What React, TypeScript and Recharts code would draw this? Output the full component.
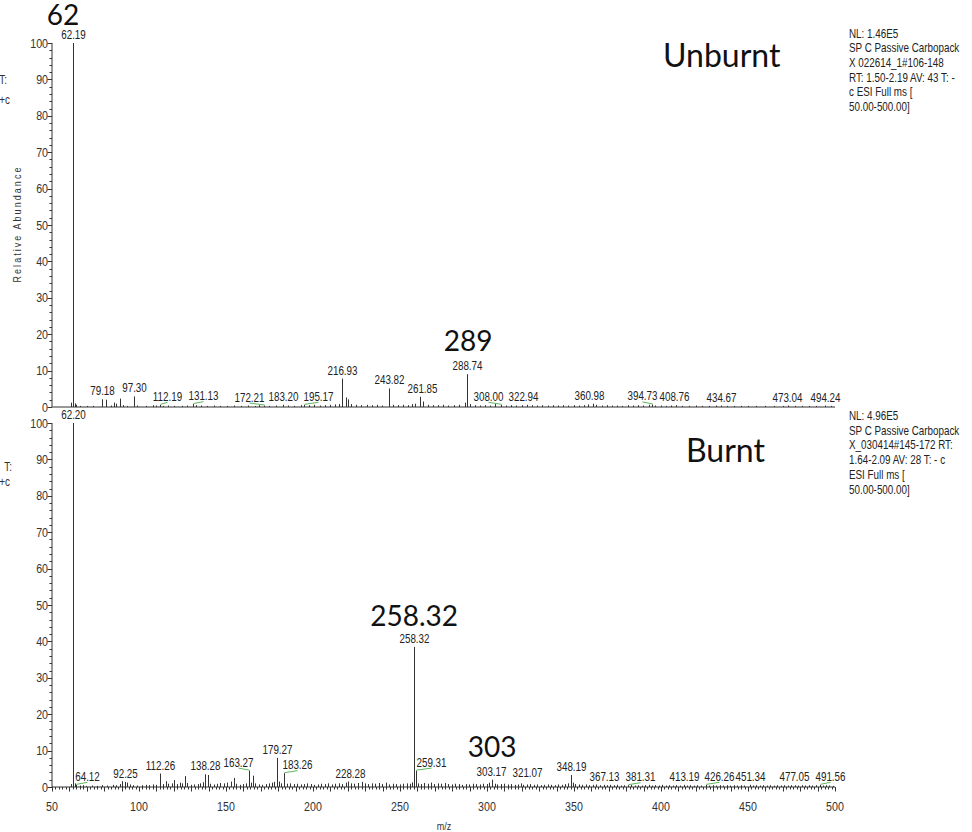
import { Bar, BarChart, LabelList, XAxis, YAxis } from "recharts";

// Unburnt sample spectrum: [m/z, relative abundance %]
const UNBURNT_PEAKS: [number, number][] = [
  [61.2, 1.2], [62.19, 100], [63.2, 1.0], [64.1, 0.6], [66, 0.3], [70, 0.3], [74, 0.3],
  [79.18, 2.1], [81.1, 2.0], [84, 0.4], [85.8, 1.2], [87.1, 0.9], [89, 2.3], [91, 0.5],
  [93, 0.3], [97.3, 2.9], [99, 0.4], [104, 0.3], [108, 0.5], [110, 0.4], [112.19, 0.6],
  [114, 0.3], [117, 0.4], [120, 0.3], [125, 0.3], [128, 0.4], [131.13, 0.8], [133, 0.5],
  [136, 0.4], [139, 0.3], [143, 0.4], [147, 0.3], [151, 0.3], [155, 0.4], [159, 0.3],
  [163, 0.4], [167, 0.3], [169, 0.5], [172.21, 0.4], [175, 0.3], [179, 0.4], [183.2, 0.6],
  [186, 0.4], [189, 0.3], [193, 0.5], [195.17, 0.6], [198, 0.5], [201, 0.6], [204, 0.4],
  [207, 0.5], [210, 0.6], [213, 0.7], [215, 0.8], [216.93, 7.8], [218.9, 2.6], [220.3, 2.1],
  [222, 0.8], [225, 0.6], [228, 0.5], [231, 0.6], [234, 0.5], [237, 0.6], [240, 0.4],
  [243.82, 5.1], [246, 0.6], [249, 0.5], [252, 0.6], [255, 0.5], [257, 0.8], [259, 0.9],
  [261.85, 2.8], [263.6, 1.5], [266, 0.6], [269, 0.5], [272, 0.5], [275, 0.6], [278, 0.4],
  [281, 0.5], [284, 0.6], [287.4, 1.2], [288.74, 9.0], [290.2, 0.8], [293, 0.5], [296, 0.4],
  [299, 0.5], [302, 0.4], [305, 0.8], [308.0, 0.6], [311, 0.4], [314, 0.5], [317, 0.4],
  [320, 0.5], [322.94, 0.6], [326, 0.5], [329, 0.4], [332, 0.5], [335, 0.4], [338, 0.5],
  [341, 0.4], [344, 0.5], [347, 0.4], [350, 0.5], [353, 0.4], [356, 0.5], [358, 0.7],
  [360.98, 0.9], [363, 0.6], [366, 0.4], [369, 0.5], [372, 0.4], [375, 0.4], [378, 0.3],
  [381, 0.5], [384, 0.4], [387, 0.5], [390, 0.4], [393, 0.6], [394.73, 0.7], [397, 0.4],
  [400, 0.4], [403, 0.3], [406, 0.4], [408.76, 0.5], [412, 0.3], [416, 0.3], [420, 0.4],
  [424, 0.3], [428, 0.3], [432, 0.4], [434.67, 0.4], [438, 0.3], [442, 0.3], [446, 0.3],
  [450, 0.3], [455, 0.3], [460, 0.3], [465, 0.3], [470, 0.3], [473.04, 0.4], [477, 0.3],
  [481, 0.3], [485, 0.3], [489, 0.3], [494.24, 0.4], [498, 0.3],
];

const UNBURNT_TAGS = [
  62.19, 79.18, 97.3, 112.19, 131.13, 172.21, 183.2, 195.17, 216.93, 243.82, 261.85,
  288.74, 308.0, 322.94, 360.98, 394.73, 408.76, 434.67, 473.04, 494.24,
];

const UNBURNT_NOTES: Record<string, string> = { "62.19": "62", "288.74": "289" };

const UNBURNT_INFO = [
  "NL: 1.46E5",
  "SP C Passive Carbopack",
  "X 022614_1#106-148",
  "RT: 1.50-2.19  AV: 43 T: -",
  "c ESI Full ms [",
  "50.00-500.00]",
];

// Burnt sample spectrum
const BURNT_PEAKS: [number, number][] = [
  [60.9, 0.8], [62.2, 100], [63.2, 1.0], [64.12, 0.6], [66, 0.4], [68, 0.5], [70, 0.3],
  [73, 0.4], [76, 0.3], [79, 0.5], [82, 0.4], [85, 0.6], [87, 0.5], [89, 0.8], [90.5, 1.6],
  [92.25, 1.4], [93.5, 1.2], [95, 0.7], [97, 0.5], [99, 0.4], [102, 0.5], [104, 0.6],
  [106, 0.5], [108, 0.7], [110, 0.6], [112.26, 3.7], [114, 0.8], [115.6, 1.6], [117, 0.9],
  [119, 1.0], [120.3, 1.9], [122, 0.8], [123.5, 1.2], [125, 1.0], [126.7, 3.0], [128, 1.1],
  [130, 0.6], [132, 0.7], [134, 0.8], [135.5, 1.0], [137, 1.3], [138.28, 3.5], [139.8, 3.3],
  [141, 0.9], [143, 0.7], [145, 0.9], [147, 1.1], [149, 1.0], [151, 1.2], [153, 1.5],
  [154.5, 2.5], [156, 0.9], [158, 0.6], [160, 0.8], [161.5, 1.0], [163.27, 4.5], [164.5, 1.2],
  [165.7, 3.1], [167, 1.0], [169, 0.7], [171, 0.6], [173, 0.8], [175, 1.0], [176.5, 1.2],
  [177.5, 1.4], [179.27, 8.0], [180.5, 1.5], [182, 1.0], [183.26, 3.8], [185, 0.9], [187, 1.0],
  [189, 0.8], [191, 0.9], [193, 0.7], [195, 0.8], [197, 1.0], [199, 0.8], [201, 0.6],
  [203, 0.7], [205, 0.9], [207, 0.8], [209, 1.0], [211, 0.7], [213, 0.9], [215, 1.0],
  [217, 0.8], [219, 1.2], [220.5, 1.5], [222, 1.0], [224, 0.9], [226, 1.1], [228.28, 1.4],
  [230, 1.0], [232, 0.8], [234, 1.0], [236, 0.9], [238, 1.1], [240, 0.8], [242, 1.2],
  [244, 0.7], [246, 0.9], [248, 0.8], [250, 0.7], [252, 0.9], [254, 1.0], [256, 0.9],
  [257.3, 1.3], [258.32, 38.5], [259.31, 4.5], [260.5, 1.0], [262, 0.8], [264, 1.1],
  [266, 0.9], [268, 1.2], [270, 0.8], [272, 1.0], [274, 0.9], [276, 1.1], [278, 0.8],
  [280, 0.7], [282, 0.9], [284, 0.8], [286, 0.6], [288, 0.8], [290, 0.7], [292, 0.9],
  [294, 0.8], [296, 0.7], [298, 0.9], [300, 0.8], [301.5, 1.2], [303.17, 2.0], [304.5, 0.9],
  [306, 0.7], [308, 0.8], [310, 0.9], [312, 0.7], [314, 0.8], [316, 0.6], [318, 0.7],
  [319.5, 1.0], [321.07, 0.6], [323, 0.7], [325, 0.8], [327, 0.6], [329, 0.7], [331, 0.5],
  [333, 0.6], [335, 0.7], [337, 0.6], [339, 0.5], [341, 0.7], [343, 0.6], [345, 0.8],
  [346.8, 1.0], [348.19, 3.3], [349.5, 1.2], [351, 0.8], [353, 0.7], [355, 0.6], [357, 0.7],
  [359, 0.5], [361, 0.6], [363, 0.7], [365, 0.5], [367.13, 0.6], [369, 0.5], [371, 0.6],
  [373, 0.5], [375, 0.6], [377, 0.4], [379, 0.5], [381.31, 0.5], [383, 0.6], [385, 0.4],
  [387, 0.5], [389, 0.4], [391, 0.5], [393, 0.6], [395, 0.4], [397, 0.5], [399, 0.4],
  [401, 0.6], [403, 0.4], [405, 0.5], [407, 0.4], [409, 0.5], [411, 0.4], [413.19, 0.6],
  [415, 0.4], [417, 0.5], [419, 0.4], [421, 0.5], [423, 0.4], [426.26, 0.6], [428, 0.4],
  [430, 0.5], [432, 0.4], [434, 0.5], [436, 0.4], [438, 0.5], [440, 0.4], [442, 0.5],
  [444, 0.4], [446, 0.5], [448, 0.4], [451.34, 0.6], [453, 0.4], [455, 0.5], [457, 0.4],
  [459, 0.5], [461, 0.4], [463, 0.5], [465, 0.4], [467, 0.5], [469, 0.4], [471, 0.5],
  [473, 0.4], [475, 0.5], [477.05, 0.5], [479, 0.4], [481, 0.5], [483, 0.4], [485, 0.5],
  [487, 0.4], [489, 0.5], [491.56, 0.6], [493, 0.4], [495, 0.5], [497, 0.4], [499, 0.3],
];

const BURNT_TAGS = [
  62.2, 64.12, 92.25, 112.26, 138.28, 163.27, 179.27, 183.26, 228.28, 258.32, 259.31,
  303.17, 321.07, 348.19, 367.13, 381.31, 413.19, 426.26, 451.34, 477.05, 491.56,
];

const BURNT_NOTES: Record<string, string> = { "258.32": "258.32", "303.17": "303" };

const BURNT_INFO = [
  "NL: 4.96E5",
  "SP C Passive Carbopack",
  "X_030414#145-172  RT:",
  "1.64-2.09  AV: 28 T: - c",
  "ESI Full ms [",
  "50.00-500.00]",
];

const Y_TICKS = Array.from({ length: 51 }, (_, i) => i * 2);
const X_TICKS = Array.from({ length: 226 }, (_, i) => 50 + i * 2);

// label placement tweaks: [dx, dy, drawLeader?]
const TAG_NUDGE: Record<string, [number, number, boolean?]> = {
  "112.19": [7, 0], "131.13": [10, 0], "172.21": [-15, 0], "195.17": [14, 0],
  "261.85": [2, 0], "308.00": [-13, 0], "322.94": [-4, 0], "360.98": [-4, 0],
  "394.73": [-10, 0], "408.76": [-2, 0], "473.04": [-1, 0],
  "64.12": [11, 0], "163.27": [-11, 0], "183.26": [13, 0], "228.28": [-12, 0, false],
  "259.31": [15, 0], "321.07": [4, -4], "381.31": [12, 0], "426.26": [13, 0],
  "491.56": [10, 0], "477.05": [-1, 0], "303.17": [-1, 0],
};

const NOTE_NUDGE: Record<string, [number, number]> = {
  "62": [-10, 2], "289": [1, -3], "258.32": [0, -1], "303": [0, -3],
};

// Arial-metric face squeezed horizontally, stands in for a narrow sans
const SANS = "'Liberation Sans', Arial, sans-serif";
const SQUEEZE = 0.82;
const BIG = "Lato, 'Open Sans', sans-serif";
const INK = "#333";
const LEADER = "#5cb85c";

type Row = { mz: number; ab: number; tag?: string; note?: string };

function buildRows(peaks: [number, number][], tags: number[], notes: Record<string, string>): Row[] {
  return peaks.map(([mz, ab]) => {
    const key = mz.toFixed(2);
    return { mz, ab, tag: tags.includes(mz) ? key : undefined, note: notes[key] };
  });
}

function NarrowText({ x, y, size, anchor = "start", fill = INK, spacing, children }: {
  x: number; y: number; size: number; anchor?: "start" | "middle" | "end"; fill?: string;
  spacing?: number; children: any;
}) {
  return (
    <text
      transform={`translate(${x} ${y}) scale(${SQUEEZE} 1)`}
      textAnchor={anchor}
      fontSize={size}
      fontFamily={SANS}
      letterSpacing={spacing}
      fill={fill}
    >
      {children}
    </text>
  );
}

const Stick = (props: any) => {
  const { x, y, width, height } = props;
  if (!height || height <= 0) return null;
  const cx = Math.round(x + width / 2) + 0.5;
  return <line x1={cx} x2={cx} y1={y} y2={y + height} stroke={INK} strokeWidth={1} />;
};

const renderTag = (props: any) => {
  const { x, y, width, value } = props;
  if (!value) return null;
  const cx = Math.round(x + width / 2) + 0.5;
  const [dx, dy, leader] = TAG_NUDGE[value] ?? [0, 0];
  const base = y - 4 + dy;
  const showLeader = leader !== false && Math.abs(dx) > 5;
  return (
    <g>
      {showLeader && (
        <line x1={cx} y1={y - 0.5} x2={cx + dx} y2={base + 1.5} stroke={LEADER} strokeWidth={1} />
      )}
      <NarrowText x={cx + dx} y={base} size={12} anchor="middle" fill="#222">
        {value}
      </NarrowText>
    </g>
  );
};

const renderNote = (props: any) => {
  const { x, y, width, value } = props;
  if (!value) return null;
  const [dx, dy] = NOTE_NUDGE[value] ?? [0, 0];
  return (
    <text x={x + width / 2 + dx} y={y - 20 + dy} textAnchor="middle" fontSize={28} fontFamily={BIG} fill="#111">
      {value}
    </text>
  );
};

const YTick = (props: any) => {
  const { x, y, payload } = props;
  const v = payload.value as number;
  const major = v % 10 === 0;
  const yy = Math.round(y) + 0.5;
  return (
    <g>
      <line x1={x - (major ? 4.5 : 2.5)} x2={x} y1={yy} y2={yy} stroke={INK} />
      {major && (
        <NarrowText x={x - 4} y={y + 4.5} size={13} anchor="end">
          {v}
        </NarrowText>
      )}
    </g>
  );
};

const XTick = (props: any) => {
  const { x, y, payload } = props;
  const v = payload.value as number;
  const len = v % 10 === 0 ? 4.5 : 2.5;
  const xx = Math.round(x) + 0.5;
  return (
    <g>
      <line x1={xx} x2={xx} y1={y} y2={y + len} stroke={INK} />
      {v % 50 === 0 && (
        <NarrowText x={x} y={y + 24} size={13} anchor="middle">
          {v}
        </NarrowText>
      )}
    </g>
  );
};

function Spectrum({ rows, height, top, xHeight, bottomTicks }: {
  rows: Row[]; height: number; top: number; xHeight: number; bottomTicks: boolean;
}) {
  return (
    <BarChart width={972} height={height} data={rows} margin={{ top, right: 137, bottom: 0, left: 0 }}>
      <XAxis
        dataKey="mz"
        type="number"
        domain={[50, 500]}
        ticks={X_TICKS}
        interval={0}
        height={xHeight}
        tickSize={0}
        tickMargin={0}
        tickLine={false}
        tick={bottomTicks ? <XTick /> : false}
        axisLine={{ stroke: INK }}
      />
      <YAxis
        type="number"
        domain={[0, 100]}
        ticks={Y_TICKS}
        interval={0}
        width={52}
        tickSize={0}
        tickMargin={0}
        tickLine={false}
        tick={<YTick />}
        axisLine={{ stroke: INK }}
      />
      <Bar dataKey="ab" barSize={1} shape={<Stick />} isAnimationActive={false}>
        <LabelList dataKey="tag" content={renderTag} />
        <LabelList dataKey="note" content={renderNote} />
      </Bar>
    </BarChart>
  );
}

function InfoBlock({ lines, x, y }: { lines: string[]; x: number; y: number }) {
  return (
    <g>
      {lines.map((line, i) => (
        <NarrowText key={i} x={x} y={y + i * 14.7} size={12} fill="#222">
          {line}
        </NarrowText>
      ))}
    </g>
  );
}

export default function App() {
  const unburnt = buildRows(UNBURNT_PEAKS, UNBURNT_TAGS, UNBURNT_NOTES);
  const burnt = buildRows(BURNT_PEAKS, BURNT_TAGS, BURNT_NOTES);

  return (
    <div style={{ position: "absolute", left: 0, top: 0, width: 972, height: 832, background: "#fff", overflow: "hidden" }}>
      <div style={{ position: "absolute", left: 0, top: 400 }}>
        <Spectrum rows={burnt} height={432} top={23} xHeight={45} bottomTicks />
      </div>
      <div style={{ position: "absolute", left: 0, top: 0 }}>
        <Spectrum rows={unburnt} height={420} top={43} xHeight={13} bottomTicks={false} />
      </div>
      <svg width={972} height={832} style={{ position: "absolute", left: 0, top: 0, pointerEvents: "none" }}>
        <text x={663} y={67} fontSize={32} fontFamily={BIG} fill="#111">Unburnt</text>
        <text x={686} y={462} fontSize={32} fontFamily={BIG} fill="#111">Burnt</text>
        <InfoBlock lines={UNBURNT_INFO} x={849} y={37.5} />
        <InfoBlock lines={BURNT_INFO} x={849} y={420} />
        <text
          transform={`translate(21 224) rotate(-90) scale(${SQUEEZE} 1)`}
          textAnchor="middle"
          fontSize={11}
          letterSpacing={2.5}
          fontFamily={SANS}
          fill={INK}
        >
          Relative Abundance
        </text>
        <NarrowText x={7} y={84} size={12} anchor="end">T:</NarrowText>
        <NarrowText x={10} y={104} size={12} anchor="end">+c</NarrowText>
        <NarrowText x={12} y={471} size={12} anchor="end">T:</NarrowText>
        <NarrowText x={10} y={486} size={12} anchor="end">+c</NarrowText>
        <NarrowText x={444} y={830} size={11} anchor="middle">m/z</NarrowText>
      </svg>
    </div>
  );
}
